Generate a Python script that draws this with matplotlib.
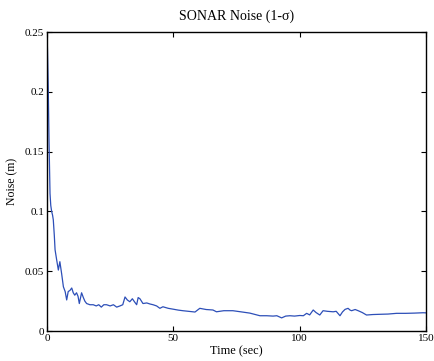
import matplotlib
matplotlib.use("Agg")
import matplotlib.pyplot as plt

# SONAR noise (1-sigma) versus time
time_sec = [0.0, 0.2, 0.5, 0.8, 1.2, 1.5, 1.85, 2.2, 2.5, 2.9, 3.2, 3.8, 4.5, 5.1, 5.8,
            6.5, 7.2, 7.8, 8.4, 9.1, 9.8, 10.4, 11.0, 11.7, 12.3, 12.8, 13.7, 14.4, 15.0,
            15.7, 17.0, 18.3, 19.5, 20.5, 21.5, 22.5, 23.6, 25.0, 26.3, 27.6, 28.9, 30.0,
            30.9, 31.8, 32.8, 33.8, 34.8, 35.5, 36.1, 36.8, 38.0, 39.5, 40.8, 42.0, 43.4,
            44.7, 45.9, 48.0, 49.9, 52.0, 53.8, 56.0, 58.6, 60.5, 63.0, 65.7, 67.1, 70.0,
            73.6, 77.0, 80.3, 84.3, 87.0, 89.5, 91.0, 92.9, 94.5, 96.2, 98.0, 100.1,
            101.5, 102.8, 104.0, 105.4, 106.5, 108.0, 109.3, 111.0, 113.3, 114.5, 116.0,
            117.0, 118.0, 119.2, 120.0, 120.6, 122.0, 123.2, 124.8, 126.5, 129.0, 131.8,
            135.0, 138.4, 142.0, 145.5, 148.9, 150.0]
noise_m = [0.250, 0.235, 0.204, 0.160, 0.115, 0.105, 0.100, 0.097, 0.093, 0.080, 0.068,
           0.060, 0.051, 0.058, 0.048, 0.037, 0.033, 0.026, 0.033, 0.034, 0.036, 0.032,
           0.030, 0.032, 0.029, 0.023, 0.032, 0.028, 0.025, 0.023, 0.022, 0.022, 0.021,
           0.022, 0.020, 0.022, 0.022, 0.021, 0.022, 0.020, 0.021, 0.022, 0.0285, 0.026,
           0.0245, 0.027, 0.024, 0.022, 0.028, 0.027, 0.023, 0.0235, 0.0226, 0.022, 0.021,
           0.019, 0.0203, 0.019, 0.0183, 0.0175, 0.017, 0.0165, 0.0159, 0.019, 0.018,
           0.0176, 0.0161, 0.017, 0.017, 0.016, 0.015, 0.0128, 0.0128, 0.0125, 0.0128,
           0.011, 0.0125, 0.0128, 0.0125, 0.013, 0.0128, 0.0148, 0.0135, 0.0176, 0.0155,
           0.0134, 0.017, 0.0165, 0.0161, 0.0165, 0.0128, 0.0160, 0.0181, 0.019, 0.0175,
           0.017, 0.018, 0.017, 0.0155, 0.0134, 0.0138, 0.014, 0.0142, 0.0148, 0.0148,
           0.015, 0.0153, 0.0152]

x_ticks = [0, 50, 100, 150]
y_ticks = [0, 0.05, 0.1, 0.15, 0.2, 0.25]
y_tick_labels = ["0", "0.05", "0.1", "0.15", "0.2", "0.25"]

plt.rcParams["font.family"] = ["Liberation Serif", "DejaVu Serif"]

fig = plt.figure(figsize=(4.35, 3.61), dpi=100)
ax = fig.add_axes([0.108, 0.083, 0.871, 0.828])
ax.plot(time_sec, noise_m, color="#2d4fb8", linewidth=0.9)

ax.set_xlim(0, 150)
ax.set_ylim(0, 0.25)
ax.set_xticks(x_ticks)
ax.set_xticklabels([str(t) for t in x_ticks])
ax.set_yticks(y_ticks)
ax.set_yticklabels(y_tick_labels)
ax.tick_params(direction="in", length=3.5, width=0.8, top=True, right=True,
               labelsize=8, pad=2)
for spine in ax.spines.values():
    spine.set_linewidth(1.0)

ax.set_title("SONAR Noise (1-σ)", fontsize=10, pad=9)
ax.set_xlabel("Time (sec)", fontsize=8.8, labelpad=2)
ax.set_ylabel("Noise (m)", fontsize=8.5, labelpad=5)

fig.savefig("out.png", dpi=100)
